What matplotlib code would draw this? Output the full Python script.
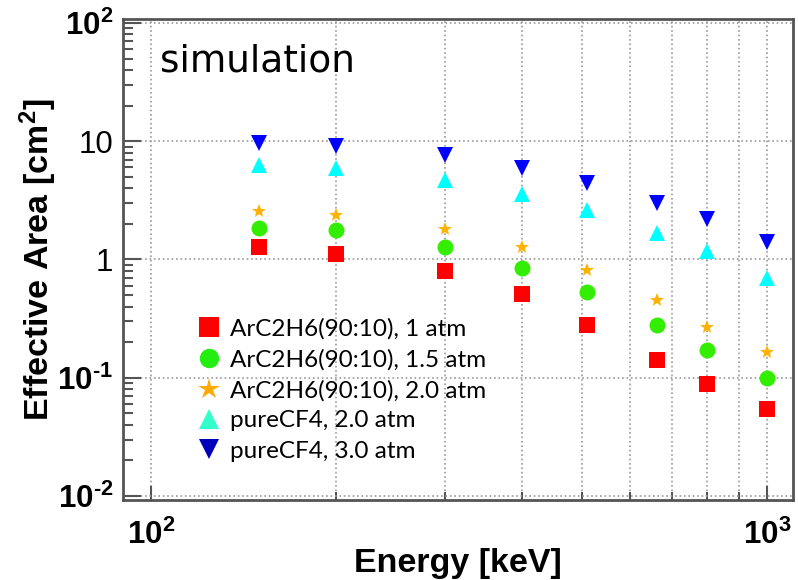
import numpy as np
import matplotlib
matplotlib.use('Agg')
import matplotlib.pyplot as plt
from matplotlib.lines import Line2D
from matplotlib.ticker import FixedLocator, FixedFormatter, NullFormatter

# fonts: Arial-like bold for the axes, math text too
plt.rcParams['font.family'] = 'Liberation Sans'
plt.rcParams['mathtext.fontset'] = 'custom'
plt.rcParams['mathtext.rm'] = 'Liberation Sans:bold'
plt.rcParams['mathtext.it'] = 'Liberation Sans:bold'
plt.rcParams['mathtext.bf'] = 'Liberation Sans:bold'

# energies in keV
energy = [150, 200, 300, 400, 511, 662, 800, 1000]

# effective area in cm^2
ar_1atm = [1.28, 1.12, 0.80, 0.51, 0.28, 0.14, 0.088, 0.054]
ar_15atm = [1.85, 1.77, 1.28, 0.84, 0.53, 0.28, 0.17, 0.10]
ar_2atm = [2.55, 2.37, 1.80, 1.27, 0.82, 0.45, 0.27, 0.165]
cf4_2atm = [6.3, 5.9, 4.7, 3.6, 2.62, 1.69, 1.18, 0.70]
cf4_3atm = [9.7, 9.1, 7.65, 5.9, 4.46, 3.0, 2.18, 1.41]

labels = ['ArC2H6(90:10), 1 atm',
          'ArC2H6(90:10), 1.5 atm',
          'ArC2H6(90:10), 2.0 atm',
          'pureCF4, 2.0 atm',
          'pureCF4, 3.0 atm']

# short hyphen in the exponents, like the original
y_ticks = [1e-2, 1e-1, 1, 10, 100]
y_ticklabels = ['$10^{\u20102}$', '$10^{\u20101}$', '1', '10', r'$10^{2}$']
x_ticks = [100, 1000]
x_ticklabels = [r'$10^{2}$', r'$10^{3}$']

fig = plt.figure(figsize=(7.98, 5.80), dpi=100)
ax = fig.add_axes([123/798, 80/580, 670/798, 481/580])

series = [ar_1atm, ar_15atm, ar_2atm, cf4_2atm, cf4_3atm]
markers = ['s', 'o', '*', '^', 'v']
colors = ['#ff0000', '#33ee00', '#ffb300', '#00ffff', '#0000ff']
sizes = [11.5, 11.5, 10, 12, 12]

for vals, m, c, s in zip(series, markers, colors, sizes):
    ax.plot(energy, vals, linestyle='none', marker=m, color=c,
            markersize=s, markeredgewidth=0, zorder=3)

ax.set_xscale('log')
ax.set_yscale('log')
ax.set_xlim(90.1, 1102)
ax.set_ylim(0.00925, 108)

ax.xaxis.set_major_locator(FixedLocator(x_ticks))
ax.xaxis.set_major_formatter(FixedFormatter(x_ticklabels))
ax.xaxis.set_minor_locator(FixedLocator([200, 300, 400, 500, 600, 700, 800, 900]))
ax.xaxis.set_minor_formatter(NullFormatter())
ax.yaxis.set_major_locator(FixedLocator(y_ticks))
ax.yaxis.set_major_formatter(FixedFormatter(y_ticklabels))
yminor = [m * 10.0**d for d in range(-2, 2) for m in range(2, 10)]
ax.yaxis.set_minor_locator(FixedLocator(yminor))
ax.yaxis.set_minor_formatter(NullFormatter())

ax.tick_params(axis='both', which='both', direction='in', color='#555555',
               width=1.5, labelsize=22.5)
ax.tick_params(axis='y', which='major', length=13, pad=7)
ax.tick_params(axis='y', which='minor', length=7)
ax.tick_params(axis='x', which='major', length=10, pad=14)
ax.tick_params(axis='x', which='minor', length=6)
ax.tick_params(top=False, right=False)

ax.grid(True, axis='x', which='both', linestyle=':', color='#999999', linewidth=1.2)
ax.grid(True, axis='y', which='major', linestyle=':', color='#999999', linewidth=1.2)
ax.set_axisbelow(True)

for sp in ax.spines.values():
    sp.set_color('#555555')
    sp.set_linewidth(2)

ax.set_xlabel('Energy [keV]', fontsize=24.5, fontweight='bold', labelpad=-2)
ax.set_ylabel(r'Effective Area [cm$^{2}$]', fontsize=24.5, fontweight='bold', labelpad=-1)

ax.text(160/798, 1 - 62/580, 'simulation', transform=fig.transFigure,
        fontsize=27, family='DejaVu Sans', va='center', ha='left')

# legend markers are a bit different in the pasted legend
leg_colors = ['#ff0000', '#22ee11', '#ffaa00', '#33ffcc', '#0000bb']
leg_sizes = [14, 14, 16, 14, 14]
handles = [Line2D([], [], linestyle='none', marker=m, color=c, markersize=s,
                  markeredgewidth=0)
           for m, c, s in zip(markers, leg_colors, leg_sizes)]
ax.legend(handles, labels, loc='upper left', bbox_to_anchor=(185/798, 1 - 306/580),
          bbox_transform=fig.transFigure, frameon=False,
          prop={'family': 'Lato', 'size': 17.5}, handlelength=1.0,
          handletextpad=0.35, labelspacing=0.38, borderpad=0)

fig.savefig('out.png', dpi=100)
